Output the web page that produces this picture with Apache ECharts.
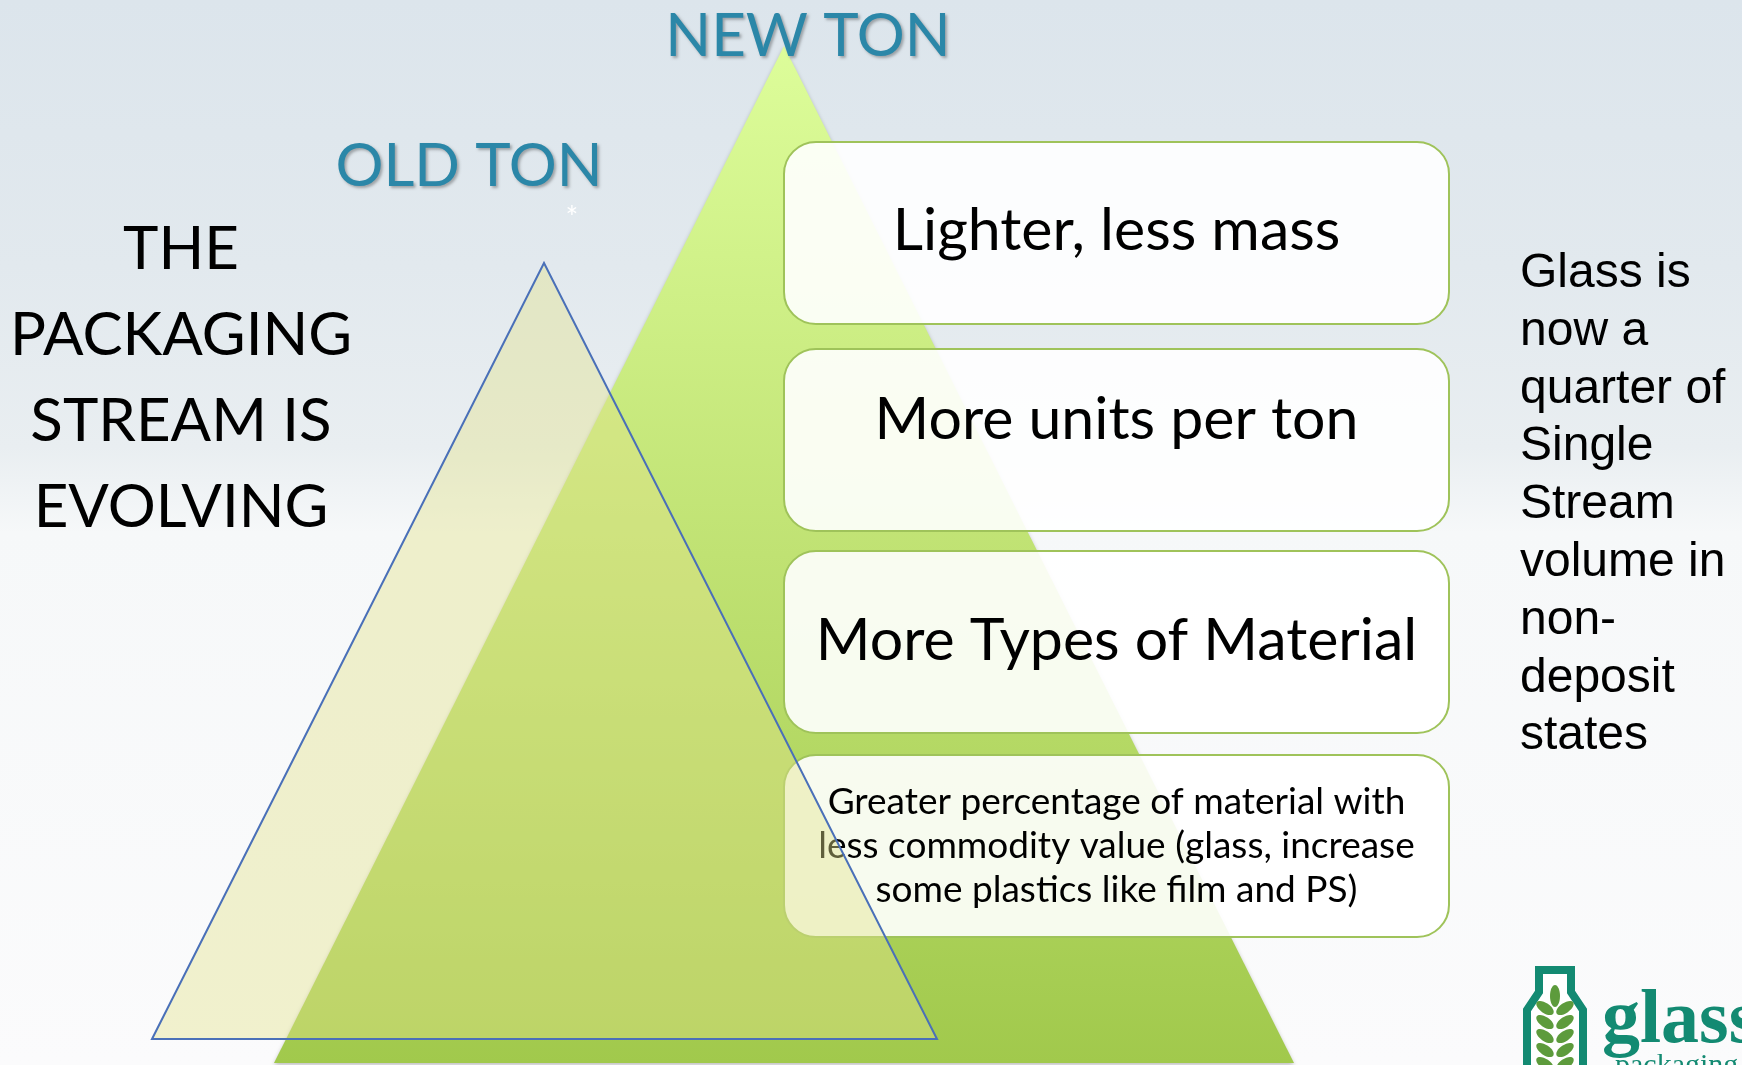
<!DOCTYPE html>
<html>
<head>
<meta charset="utf-8">
<script src="https://cdn.jsdelivr.net/npm/echarts@6/dist/echarts.min.js"></script>
<style>
  html, body { margin: 0; padding: 0; }
  #main { width: 1742px; height: 1065px; }
</style>
</head>
<body>
<div id="main"></div>
<script>
    // slide content
    var titleLabels = ['NEW TON', 'OLD TON'];
    var leftLines = ['THE', 'PACKAGING', 'STREAM IS', 'EVOLVING'];
    var boxLabels = [
        'Lighter, less mass',
        'More units per ton',
        'More Types of Material',
        'Greater percentage of material with\nless commodity value (glass, increase\nsome plastics like film and PS)'
    ];
    var rightLines = ['Glass is', 'now a', 'quarter of', 'Single', 'Stream', 'volume in', 'non-', 'deposit', 'states'];

    // triangle vertices in slide units (x right, y down)
    var newTon = [[274, 1063], [784, 46], [1294, 1063]];
    var oldTon = [[152, 1039], [544, 263], [937, 1039]];

    // layout
    var boxTops = [142, 349, 551, 755];
    var boxTextY = [231, 420, 641, 846];
    var boxLeft = 784, boxWidth = 665, boxHeight = 182;

    var chart = echarts.init(document.getElementById('main'));

    function triangle(pts, style) {
        return function (params, api) {
            var points = pts.map(function (p) { return api.coord(p); });
            return { type: 'polygon', shape: { points: points }, style: style };
        };
    }

    var option = {
        animation: false,
        grid: { left: 0, right: 0, top: 0, bottom: 0 },
        xAxis: { type: 'value', min: 0, max: 1742, show: false },
        yAxis: { type: 'value', min: 0, max: 1065, inverse: true, show: false },
        graphic: [{
            type: 'rect', z: -10, silent: true,
            shape: { x: 0, y: 0, width: 1742, height: 1065 },
            style: {
                fill: new echarts.graphic.LinearGradient(0, 0, 0, 1, [
                    { offset: 0, color: '#dce5ec' },
                    { offset: 0.25, color: '#e2e9ee' },
                    { offset: 0.42, color: '#e9eef1' },
                    { offset: 0.5, color: '#f6f8f9' },
                    { offset: 1, color: '#fbfbfc' }
                ])
            }
        }],
        series: [
            {
                // new ton triangle
                type: 'custom', z: 2, clip: false, silent: true,
                data: [[0, 0]],
                renderItem: triangle(newTon, {
                    fill: new echarts.graphic.LinearGradient(0, 0, 0, 1, [
                        { offset: 0, color: '#ddfd9a' },
                        { offset: 0.5, color: '#c0e273' },
                        { offset: 1, color: '#a1c94c' }
                    ]),
                    shadowColor: 'rgba(0,0,0,0.25)', shadowBlur: 4, shadowOffsetY: 2
                })
            },
            {
                // text boxes
                type: 'custom', z: 3, clip: false, silent: true,
                data: boxLabels.map(function (t, i) { return [i]; }),
                renderItem: function (params, api) {
                    var i = api.value(0);
                    var tl = api.coord([boxLeft, boxTops[i]]);
                    var br = api.coord([boxLeft + boxWidth, boxTops[i] + boxHeight]);
                    var c = api.coord([boxLeft + boxWidth / 2, boxTextY[i]]);
                    var small = i === 3;
                    return {
                        type: 'group',
                        children: [{
                            type: 'rect',
                            shape: { x: tl[0], y: tl[1], width: br[0] - tl[0], height: br[1] - tl[1], r: 32 },
                            style: { fill: 'rgba(255,255,255,0.9)', stroke: '#9fc35a', lineWidth: 2 }
                        }, {
                            type: 'text',
                            style: {
                                text: boxLabels[i], x: c[0], y: c[1],
                                align: 'center', verticalAlign: 'middle',
                                fontFamily: 'Lato', fontSize: small ? 37 : 59,
                                lineHeight: small ? 44 : 64, fill: '#000'
                            }
                        }]
                    };
                }
            },
            {
                // old ton triangle
                type: 'custom', z: 4, clip: false, silent: true,
                data: [[0, 0]],
                renderItem: triangle(oldTon, {
                    fill: 'rgba(226,226,140,0.42)',
                    stroke: '#4a70b8', lineWidth: 2
                })
            },
            {
                // texts
                type: 'custom', z: 5, clip: false, silent: true,
                data: [[0, 0]],
                renderItem: function (params, api) {
                    var titleStyle = {
                        fontFamily: 'Lato', fontSize: 60, fill: '#2b87a8',
                        align: 'center', verticalAlign: 'middle',
                        textShadowColor: 'rgba(0,0,0,0.3)', textShadowBlur: 3,
                        textShadowOffsetX: 2, textShadowOffsetY: 2
                    };
                    var pNew = api.coord([808, 37]);
                    var pOld = api.coord([469, 167]);
                    var pLeft = api.coord([181, 379]);
                    var pRight = api.coord([1520, 505]);
                    var pStar = api.coord([572, 218]);
                    return {
                        type: 'group',
                        children: [
                            { type: 'text', style: Object.assign({ text: titleLabels[0], x: pNew[0], y: pNew[1] }, titleStyle) },
                            { type: 'text', style: Object.assign({ text: titleLabels[1], x: pOld[0], y: pOld[1] }, titleStyle) },
                            { type: 'text', style: { text: '*', x: pStar[0], y: pStar[1], align: 'center', verticalAlign: 'middle', fontFamily: 'Lato', fontSize: 30, fill: '#ffffff' } },
                            {
                                type: 'text',
                                style: {
                                    text: leftLines.join('\n'), x: pLeft[0], y: pLeft[1],
                                    align: 'center', verticalAlign: 'middle',
                                    fontFamily: 'Lato', fontSize: 60, lineHeight: 86, fill: '#000'
                                }
                            },
                            {
                                type: 'text',
                                style: {
                                    text: rightLines.join('\n'), x: pRight[0], y: pRight[1],
                                    align: 'left', verticalAlign: 'middle',
                                    fontFamily: 'Liberation Sans', fontSize: 48, lineHeight: 57.8, fill: '#000'
                                }
                            }
                        ]
                    };
                }
            },
            {
                // glass packaging logo, bottom right corner
                type: 'custom', z: 6, clip: false, silent: true,
                data: [[0, 0]],
                renderItem: function (params, api) {
                    var o = api.coord([1555, 1000]);
                    var x = o[0], y = o[1];
                    var leaves = [];
                    for (var k = 0; k < 5; k++) {
                        var ly = y + 8 + k * 14;
                        leaves.push({ type: 'ellipse', shape: { cx: x - 10, cy: ly, rx: 10, ry: 5 }, rotation: -0.6, originX: x - 10, originY: ly, style: { fill: '#5d9b3c' } });
                        leaves.push({ type: 'ellipse', shape: { cx: x + 10, cy: ly, rx: 10, ry: 5 }, rotation: 0.6, originX: x + 10, originY: ly, style: { fill: '#5d9b3c' } });
                    }
                    leaves.push({ type: 'ellipse', shape: { cx: x, cy: y - 4, rx: 5, ry: 11 }, style: { fill: '#5d9b3c' } });
                    return {
                        type: 'group',
                        children: [{
                            type: 'polygon',
                            shape: { points: [[x - 28, y + 70], [x - 28, y + 10], [x - 16, y - 8], [x - 16, y - 30], [x + 16, y - 30], [x + 16, y - 8], [x + 28, y + 10], [x + 28, y + 70]] },
                            style: { fill: '#ffffff', stroke: '#138a72', lineWidth: 8, lineJoin: 'miter' }
                        }].concat(leaves).concat([{
                            type: 'text',
                            style: { text: 'glass', x: x + 47, y: y + 22, align: 'left', verticalAlign: 'middle', fontFamily: 'Liberation Serif', fontWeight: 'bold', fontSize: 76, fill: '#138a72' }
                        }, {
                            type: 'text',
                            style: { text: 'packaging', x: x + 60, y: y + 66, align: 'left', verticalAlign: 'middle', fontFamily: 'Liberation Serif', fontSize: 30, fill: '#138a72' }
                        }])
                    };
                }
            }
        ]
    };

    chart.setOption(option);
</script>
</body>
</html>
